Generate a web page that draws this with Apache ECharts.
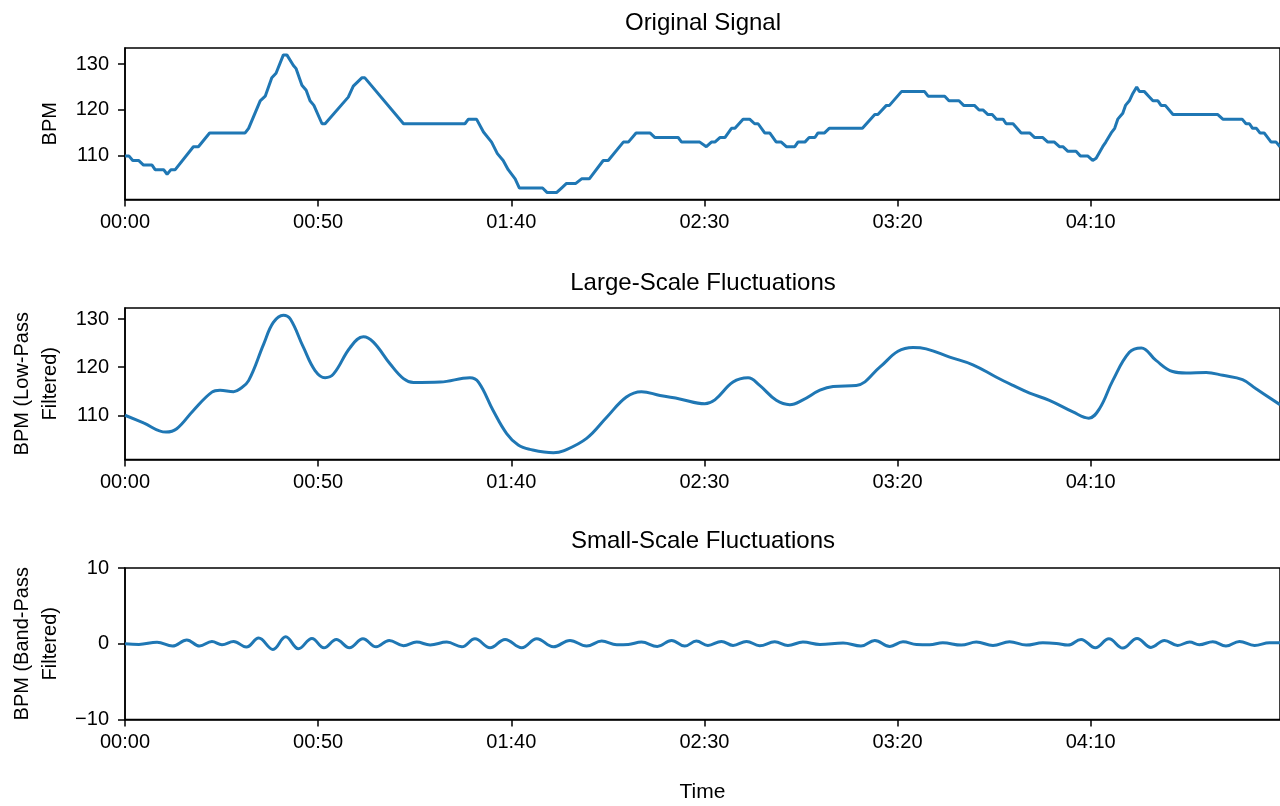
<!DOCTYPE html>
<html>
<head>
<meta charset="utf-8">
<script src="https://cdn.jsdelivr.net/npm/echarts@6/dist/echarts.min.js"></script>
<style>
  html, body { margin: 0; padding: 0; background: #fff; }
  #chart { width: 1280px; height: 806px; }
</style>
</head>
<body>
<div id="chart"></div>
<script>
// time in seconds, values in BPM
const origTime = [0, 1, 2, 3.5, 4.8, 7, 7.8, 10, 10.9, 11.9,
  13, 17.7, 19, 21.9, 31.1, 32, 35, 36.3, 38, 39.1,
  41, 41.9, 43.6, 44.3, 45.8, 46.9, 47.9, 48.9, 51, 51.8,
  57.8, 59.1, 61.3, 62.1, 72.1, 88, 88.9, 91, 92.8, 94.9,
  96.4, 97.9, 99.2, 101, 102.1, 108.1, 109.3, 111.7, 113, 114.3,
  116.7, 118.2, 120.2, 123.8, 125.1, 129, 130.3, 132.3, 135.9, 137.2,
  143.2, 144.1, 148.8, 150.5, 151.8, 152.7, 154, 155.3, 157, 157.9,
  160, 161.7, 163, 163.9, 165.6, 166.9, 168.6, 169.9, 171.2, 173.4,
  174.2, 176, 177.1, 178.6, 179.4, 181.1, 182.3, 190.9, 194.1, 194.9,
  197.1, 197.9, 201, 207, 207.9, 212.2, 213.3, 215.9, 217.1, 219.9,
  221.1, 222.1, 223.4, 224.5, 225.6, 227.3, 228.1, 229.9, 232, 234.2,
  235.5, 237.6, 238.9, 240.6, 241.9, 242.8, 244.1, 246.2, 247.3, 249.2,
  250.5, 251.4, 253.1, 253.9, 255.3, 256.2, 257, 258.3, 259, 260,
  260.9, 261.9, 262.6, 263.9, 265, 266.1, 267.4, 268.2, 269.3, 271.3,
  282.9, 284.2, 289.2, 290.2, 291.1, 291.9, 292.9, 293.8, 294.9, 296.7,
  298, 299];
const origBpm = [110, 110, 109, 109, 108, 108, 107, 107, 106, 107,
  107, 112, 112, 115, 115, 116, 122, 123, 127, 128,
  132, 132, 129.7, 129, 125.4, 124.3, 122, 121, 117, 117,
  122.8, 125.2, 127, 127, 117, 117, 118, 118, 115.2, 113,
  110.5, 109, 107, 105, 103, 103, 102, 102, 103, 104,
  104, 105, 105, 109, 109, 113, 113, 115, 115, 114,
  114, 113, 113, 112, 113, 113, 114, 114, 116, 116,
  118, 118, 117, 117, 115, 115, 113, 113, 112, 112,
  113, 113, 114, 114, 115, 115, 116, 116, 119, 119,
  121, 121, 124, 124, 123, 123, 122, 122, 121, 121,
  120, 120, 119, 119, 118, 118, 117, 117, 115, 115,
  114, 114, 113, 113, 112, 112, 111, 111, 110, 110,
  109, 109.5, 112, 113, 115, 116, 118, 119.3, 121, 122,
  123.6, 125, 124, 124, 123, 122, 122, 121, 121, 119,
  119, 118, 118, 117, 117, 116, 116, 115, 115, 113,
  113, 112];

const lowTime = [0, 4.8, 10.6, 13.4, 17.7, 22.5, 24.6, 28.1, 29.8, 32,
  35.9, 38.4, 41, 42.8, 46.2, 49.2, 51.8, 54, 58.3, 61.7,
  64.3, 68.6, 72.1, 74.7, 81.6, 89.3, 91.5, 95.3, 98.8, 101.8,
  104.8, 110.9, 113.5, 119.5, 124.7, 129.8, 133.7, 138.5, 143.6, 150.1,
  152.7, 157.4, 161.3, 164.3, 168.6, 172.1, 175.5, 179.9, 183.3, 189.3,
  195.4, 200.1, 204, 207.4, 213.5, 219.5, 225.6, 229.9, 234.2, 239.3,
  245.4, 249.5, 252.3, 255.7, 260, 263.1, 266.9, 271.2, 274.7, 279.9,
  284.2, 289.3, 292.8, 299];
const lowBpm = [110, 108.4, 106.5, 107.2, 111, 114.8, 115.2, 114.9, 115.5, 117.2,
  124.8, 129.3, 130.8, 130, 124.1, 119.3, 117.8, 118.6, 124.1, 126.3,
  125.2, 120.7, 117.6, 116.8, 116.9, 117.8, 116.9, 111, 106.2, 103.8,
  102.9, 102.2, 102.6, 105.2, 109.6, 113.8, 114.9, 114.1, 113.4, 112.4,
  113.2, 116.9, 117.8, 116.2, 113.1, 112.2, 113.2, 115.2, 116, 116.2,
  120, 123.3, 124.1, 123.8, 122.1, 120.5, 117.9, 116.2, 114.6, 113.1,
  110.7, 109.4, 111.4, 117.2, 123.1, 124, 121.4, 119.1, 118.8, 118.9,
  118.3, 117.4, 115.5, 112.2];

const bandTime = [0, 3.6, 8.3, 12.3, 16, 19.3, 22.5, 25.1, 28.1, 31.4,
  34.6, 38.3, 41.6, 44.9, 48.4, 51.5, 54.7, 58.1, 61.6, 65,
  68.4, 72.1, 75.5, 79, 83.3, 87.2, 90.6, 94.5, 98.4, 102.7,
  106.6, 110.9, 115.2, 119.5, 123.4, 127.3, 130.3, 133.7, 137.8, 141.5,
  144.9, 147.9, 150.9, 154.4, 157.4, 160.9, 164.3, 168.2, 171.6, 175.5,
  179.9, 185.9, 190.5, 194.1, 198, 201.4, 204.9, 208.3, 211.7, 216.5,
  220.4, 224.7, 229, 233.3, 237.6, 241.1, 244.1, 247.5, 251.2, 254.7,
  258.3, 262, 265.6, 269.1, 272.5, 275.6, 278.1, 281.6, 285, 288.5,
  292.4, 296.3, 299];
const bandBpm = [0, -0.09, 0.2, -0.3, 0.5, -0.3, 0.3, -0.13, 0.3, -0.44,
  0.75, -0.75, 0.92, -0.66, 0.7, -0.53, 0.57, -0.53, 0.66, -0.4,
  0.44, -0.26, 0.22, -0.15, 0.22, -0.4, 0.66, -0.53, 0.57, -0.53,
  0.66, -0.4, 0.44, -0.31, 0.35, -0.13, -0.09, 0.22, -0.35, 0.44,
  -0.31, 0.35, -0.22, 0.31, -0.22, 0.31, -0.26, 0.26, -0.22, 0.22,
  -0.09, 0.09, -0.3, 0.44, -0.35, 0.26, -0.09, -0.13, 0.13, -0.18,
  0.22, -0.22, 0.26, -0.18, 0.13, 0.04, -0.18, 0.57, -0.53, 0.66,
  -0.57, 0.7, -0.48, 0.44, -0.22, 0.22, -0.13, 0.26, -0.3, 0.31,
  -0.22, 0.13, 0.13];

const xTicks = [0, 50, 100, 150, 200, 250];
const bpmTicks = [110, 120, 130];
const bandTicks = [-10, 0, 10];

const titles = ['Original Signal', 'Large-Scale Fluctuations', 'Small-Scale Fluctuations'];
const yNames = ['BPM', 'BPM (Low-Pass\nFiltered)', 'BPM (Band-Pass\nFiltered)'];

const FONT = "'Liberation Sans', Arial, sans-serif";
const LINE = '#1f77b4';
const INK = '#000';
const tops = [48, 308, 568];
const titleOffsets = [-37, -37, -39];
const plotH = 151.5;

const pad = (n) => (n < 10 ? '0' : '') + n;
const mmss = (v) => pad(Math.floor(v / 60)) + ':' + pad(Math.round(v % 60));
const minus = (v) => (v < 0 ? '\u2212' + Math.abs(v) : String(v));
const zip = (a, b) => a.map((t, i) => [t, b[i]]);

const chart = echarts.init(document.getElementById('chart'), null, { renderer: 'canvas' });

const makeX = (i) => ({
  type: 'value',
  gridIndex: i,
  min: 0,
  max: 299,
  name: i === 2 ? 'Time' : '',
  nameLocation: 'middle',
  nameGap: 62,
  nameTextStyle: { color: INK, fontFamily: FONT, fontSize: 21 },
  axisLine: { show: true, onZero: false, lineStyle: { color: INK, width: 1.5 } },
  axisTick: { show: true, length: 7, customValues: xTicks, lineStyle: { color: INK, width: 1.5 } },
  axisLabel: {
    customValues: xTicks, formatter: mmss, margin: 13,
    color: INK, fontFamily: FONT, fontSize: 20
  },
  splitLine: { show: false }
});

const makeY = (i, min, max, ticks) => ({
  type: 'value',
  gridIndex: i,
  min: min,
  max: max,
  name: yNames[i],
  nameLocation: 'middle',
  nameRotate: 90,
  nameGap: 60,
  nameTextStyle: { color: INK, fontFamily: FONT, fontSize: 20, lineHeight: 28, align: 'center' },
  axisLine: { show: true, lineStyle: { color: INK, width: 1.5 } },
  axisTick: { show: true, length: 7, customValues: ticks, lineStyle: { color: INK, width: 1.5 } },
  axisLabel: {
    customValues: ticks, formatter: minus, margin: 16,
    color: INK, fontFamily: FONT, fontSize: 20
  },
  splitLine: { show: false }
});

const series = [
  zip(origTime, origBpm),
  zip(lowTime, lowBpm),
  zip(bandTime, bandBpm)
].map((d, i) => ({
  type: 'line',
  xAxisIndex: i,
  yAxisIndex: i,
  data: d,
  smooth: i === 0 ? false : 0.4,
  showSymbol: false,
  animation: false,
  lineStyle: { color: LINE, width: 3 }
}));

chart.setOption({
  animation: false,
  backgroundColor: '#fff',
  title: titles.map((t, i) => ({
    text: t,
    left: 703,
    top: tops[i] + titleOffsets[i],
    textAlign: 'center',
    padding: 0,
    textStyle: { color: INK, fontFamily: FONT, fontSize: 24, fontWeight: 'normal' }
  })),
  grid: tops.map((t) => ({
    left: 125, top: t, width: 1156, height: plotH,
    show: true, borderColor: INK, borderWidth: 1.5
  })),
  xAxis: [makeX(0), makeX(1), makeX(2)],
  yAxis: [
    makeY(0, 100.5, 133.5, bpmTicks),
    makeY(1, 100.8, 132.3, bpmTicks),
    makeY(2, -10, 10, bandTicks)
  ],
  series: series
});
</script>
</body>
</html>
